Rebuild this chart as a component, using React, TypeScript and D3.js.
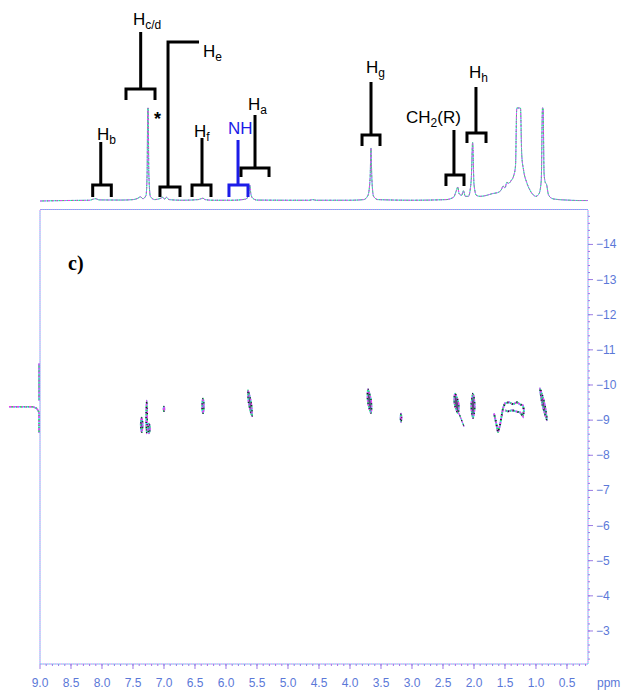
import React from 'react';
import * as d3 from 'd3';

// 1D projection on top: chemical shift (ppm) and relative intensity (100 = clipped top)
const specPpm = [9.0, 8.6, 8.2, 8.14, 8.1, 8.05, 7.7, 7.5, 7.42, 7.38, 7.34, 7.29, 7.272, 7.262, 7.255, 7.245, 7.22, 7.15,
  7.05, 7.02, 6.99, 6.96, 6.92, 6.7, 6.45, 6.4, 6.37, 6.34, 6.2, 5.9, 5.68, 5.64, 5.615, 5.6, 5.57, 5.5, 5.0, 4.65, 4.6, 4.55,
  4.0, 3.78, 3.71, 3.675, 3.662, 3.648, 3.62, 3.55, 3.0, 2.45, 2.33, 2.285, 2.262, 2.24, 2.2, 2.17, 2.14, 2.09, 2.045, 2.022,
  2.0, 1.96, 1.9, 1.8, 1.7, 1.62, 1.56, 1.53, 1.5, 1.47, 1.44, 1.4, 1.36, 1.33, 1.31, 1.25, 1.23, 1.2, 1.15, 1.1, 1.05, 1.0,
  0.95, 0.915, 0.895, 0.885, 0.87, 0.85, 0.83, 0.8, 0.75, 0.7, 0.5, 0.3, 0.161];
const specInt = [0, 0.5, 0.8, 2, 2.5, 1.2, 1, 1.5, 3, 4.5, 2.5, 6, 30, 100, 100, 30, 5, 1.5,
  3, 4, 2, 4, 1.5, 0.8, 1.5, 2.5, 3, 1.5, 0.8, 0.8, 2, 6, 17, 8, 3, 1, 0.8, 0.8, 1.5, 0.8,
  0.8, 1.5, 6, 25, 57, 25, 5, 1.5, 0.8, 1.5, 4, 11, 15, 8, 6, 11, 5, 5, 22, 63,
  18, 6, 5, 6, 8, 9, 12, 16, 14, 20, 19, 22, 27, 38, 100, 100, 50, 33, 20, 12, 7, 5,
  8, 22, 100, 100, 30, 20, 18, 7, 3, 2, 1, 0.5, 0.5];

// x axis tick labels (ppm) and y axis tick values (log D)
const xTickLabels = ['9.0', '8.5', '8.0', '7.5', '7.0', '6.5', '6.0', '5.5', '5.0', '4.5', '4.0', '3.5', '3.0', '2.5', '2.0', '1.5', '1.0', '0.5'];
const yTickValues = [-14, -13, -12, -11, -10, -9, -8, -7, -6, -5, -4, -3];

// peak assignments: label place, stem and bracket in ppm / projection intensity
const assignments = [
  { main: 'H', sub: 'b', tail: '', labelPpm: 8.08, labelI: 65.6, stem: 8.02, top: 63.4, arm: null, bar: 17.2, foot: 4.3, left: 8.15, right: 7.85, blue: false },
  { main: 'H', sub: 'c/d', tail: '', labelPpm: 7.5, labelI: 189.2, stem: 7.376, top: 181.7, arm: null, bar: 120.4, foot: 108.6, left: 7.613, right: 7.145, blue: false },
  { main: 'H', sub: 'e', tail: '', labelPpm: 6.371, labelI: 154.8, stem: 6.935, top: 171, arm: 6.435, bar: 15.1, foot: 4.3, left: 7.065, right: 6.742, blue: false },
  { main: 'H', sub: 'f', tail: '', labelPpm: 6.516, labelI: 68.8, stem: 6.387, top: 67.7, arm: null, bar: 17.2, foot: 4.3, left: 6.548, right: 6.242, blue: false },
  { main: 'NH', sub: '', tail: '', labelPpm: 5.968, labelI: 72, stem: 5.806, top: 65.6, arm: null, bar: 17.2, foot: 4.3, left: 5.952, right: 5.645, blue: true },
  { main: 'H', sub: 'a', tail: '', labelPpm: 5.645, labelI: 97.8, stem: 5.532, top: 92.5, arm: null, bar: 35.5, foot: 25.8, left: 5.758, right: 5.306, blue: false },
  { main: 'H', sub: 'g', tail: '', labelPpm: 3.742, labelI: 137.6, stem: 3.661, top: 128, arm: null, bar: 71, foot: 59.1, left: 3.806, right: 3.516, blue: false },
  { main: 'CH', sub: '2', tail: '(R)', labelPpm: 3.097, labelI: 83.9, stem: 2.323, top: 76.3, arm: null, bar: 28, foot: 16.1, left: 2.452, right: 2.161, blue: false },
  { main: 'H', sub: 'h', tail: '', labelPpm: 2.081, labelI: 132.3, stem: 1.968, top: 122.6, arm: null, bar: 73.1, foot: 62.4, left: 2.113, right: 1.806, blue: false },
];

// DOSY cross peaks: top and bottom of each contour [ppm, log D], half width in ppm
const crossPeaks = [
  { top: [7.36, -9.08], bot: [7.36, -8.65], w: 0.018 },
  { top: [7.279, -9.56], bot: [7.279, -8.62], w: 0.01 },
  { top: [7.242, -8.91], bot: [7.242, -8.62], w: 0.018 },
  { top: [7.0, -9.39], bot: [7.0, -9.25], w: 0.01 },
  { top: [6.371, -9.62], bot: [6.371, -9.19], w: 0.016 },
  { top: [5.645, -9.85], bot: [5.581, -9.11], w: 0.022 },
  { top: [3.71, -9.88], bot: [3.661, -9.19], w: 0.03 },
  { top: [3.177, -9.19], bot: [3.177, -8.94], w: 0.01 },
  { top: [2.306, -9.76], bot: [2.258, -9.19], w: 0.035 },
  { top: [2.016, -9.76], bot: [2.016, -9.05], w: 0.03 },
  { top: [0.935, -9.91], bot: [0.823, -8.99], w: 0.022 },
];
// aliphatic CH2 envelope and its tail
const ch2Trace = [[1.677, -9.19], [1.645, -8.94], [1.613, -8.65], [1.581, -8.85], [1.532, -9.34], [1.5, -9.48], [1.435, -9.51],
  [1.371, -9.45], [1.306, -9.51], [1.258, -9.45], [1.21, -9.42], [1.194, -9.28], [1.21, -9.11], [1.258, -9.22], [1.323, -9.25],
  [1.387, -9.28], [1.452, -9.25], [1.5, -9.28]];
const tailTrace = [[2.242, -9.19], [2.2, -9.0], [2.161, -8.82]];
// dispersive artefact left of the box
const edgeUpper = [[9.016, -10.61], [9.016, -9.56]];
const edgeLower = [[9.5, -9.38], [9.113, -9.38], [9.05, -9.33], [9.016, -9.19], [9.016, -8.64]];

const Speckle = ({ d, w = 1, dark = false, fill = 'none' }: { d: string; w?: number; dark?: boolean; fill?: string }) => (
  <g strokeWidth={w}>
    <path d={d} stroke="#38d6ec" fill={fill} />
    <path d={d} stroke="#f03cf0" strokeDasharray="2 2" fill="none" />
    <path d={d} stroke="#3ed85a" strokeDasharray="1 3" strokeDashoffset={1} fill="none" />
    <path d={d} stroke={dark ? '#151515' : '#8a8a9a'} strokeDasharray="1 4" strokeDashoffset={3} fill="none" />
  </g>
);

export default function App() {
  const left = 40, right = 588, top = 210, bottom = 664;
  const x = d3.scaleLinear().domain([9, 0.161]).range([left, right]);
  const yS = d3.scaleLinear().domain([0, 100]).range([201, 108]);
  const yD = d3.scaleLinear().domain([-14.98, -2.06]).range([top, bottom]);

  const spec = d3.line<number>()
    .x((_, i) => x(specPpm[i]))
    .y((v) => yS(v))
    .curve(d3.curveMonotoneX)(specInt) as string;

  const dLine = d3.line<number[]>().x((p) => x(p[0])).y((p) => yD(p[1]));
  const yCurve = d3.line<number[]>().x((p) => x(p[0])).y((p) => yD(p[1])).curve(d3.curveMonotoneY);
  const blob = d3.line<number[]>().x((p) => x(p[0])).y((p) => yD(p[1])).curve(d3.curveCardinalClosed);

  const minor = d3.range(2, 90).map((v) => v / 10);
  const minorY = d3.range(-74, -10).map((v) => v / 5);
  const axisCol = '#9c7ce4';
  const labCol = '#5b78d8';
  const edgeD = (yCurve(edgeLower.slice(2)) as string) + (dLine(edgeLower.slice(0, 3)) as string);

  return (
    <svg width={626} height={691} style={{ position: 'absolute', left: 0, top: 0, background: '#fff' }}
      fontFamily="Arial, 'Liberation Sans', sans-serif">
      {/* box */}
      <g fill="none" strokeWidth={1}>
        <path d={`M${left},${top - 0.5}H${right}M${left},${top}V${bottom}M${right},${top}V${bottom}M${left},${bottom}H${right}`}
          stroke="#e070f0" strokeDasharray="1 1" />
        <path d={`M${left},${top - 0.5}H${right}M${left},${top}V${bottom}M${right},${top}V${bottom}M${left},${bottom}H${right}`}
          stroke="#50d8f0" strokeDasharray="1 1" strokeDashoffset={1} />
      </g>

      {/* x axis */}
      <g stroke={axisCol} strokeWidth={1}>
        {minor.map((v) => <line key={v} x1={x(v)} x2={x(v)} y1={bottom} y2={bottom + 2} />)}
        {xTickLabels.map((t) => <line key={t} x1={x(+t)} x2={x(+t)} y1={bottom} y2={bottom + 5} />)}
      </g>
      {xTickLabels.map((t) => (
        <text key={t} x={x(+t)} y={687} fontSize={12} textAnchor="middle" fill={labCol}>{t}</text>
      ))}
      <text x={597} y={687} fontSize={12} fill={labCol}>ppm</text>

      {/* y axis on the right */}
      <g stroke={axisCol} strokeWidth={1}>
        {minorY.map((v) => <line key={v} x1={right} x2={right + 2} y1={yD(v)} y2={yD(v)} />)}
        {yTickValues.map((v) => <line key={v} x1={right} x2={right + 5} y1={yD(v)} y2={yD(v)} />)}
      </g>
      {yTickValues.map((v) => (
        <text key={v} x={596} y={yD(v) + 4} fontSize={12} fill={labCol}>{'\u2212' + Math.abs(v)}</text>
      ))}

      <text x={68} y={270} fontSize={20} fontWeight="bold" fontFamily="'Liberation Serif', 'Times New Roman', serif">c)</text>

      {/* projection */}
      <Speckle d={spec} w={1} />

      {/* cross peaks */}
      {crossPeaks.map((c, i) => {
        const mid = [(c.top[0] + c.bot[0]) / 2, (c.top[1] + c.bot[1]) / 2];
        const pts = [c.top, [mid[0] - c.w, mid[1]], c.bot, [mid[0] + c.w, mid[1]]];
        return <Speckle key={i} d={blob(pts) as string} w={1.3} dark fill="#5a4a7a" />;
      })}
      <Speckle d={dLine(ch2Trace) as string} w={1.8} dark />
      <Speckle d={dLine(tailTrace) as string} w={1.2} dark />
      <Speckle d={dLine(edgeUpper) as string} w={1.5} />
      <Speckle d={edgeD} w={1.5} />

      {/* assignments */}
      {assignments.map((a, i) => {
        const col = a.blue ? '#1c1ce8' : '#000';
        const d = `M${x(a.left)},${yS(a.foot)}V${yS(a.bar)}H${x(a.right)}V${yS(a.foot)}` +
          `M${x(a.stem)},${yS(a.bar)}V${yS(a.top)}` + (a.arm !== null ? `H${x(a.arm)}` : '');
        return (
          <g key={i}>
            <path d={d} fill="none" stroke={col} strokeWidth={3} strokeLinejoin="miter" />
            <text x={x(a.labelPpm)} y={yS(a.labelI)} fontSize={17} fill={col}>
              {a.main}
              {a.sub && <tspan dy={4} fontSize={12}>{a.sub}</tspan>}
              {a.tail && <tspan dy={-4} fontSize={17}>{a.tail}</tspan>}
            </text>
          </g>
        );
      })}
      <text x={x(7.16)} y={yS(82)} fontSize={18} fontWeight="bold">*</text>
    </svg>
  );
}
